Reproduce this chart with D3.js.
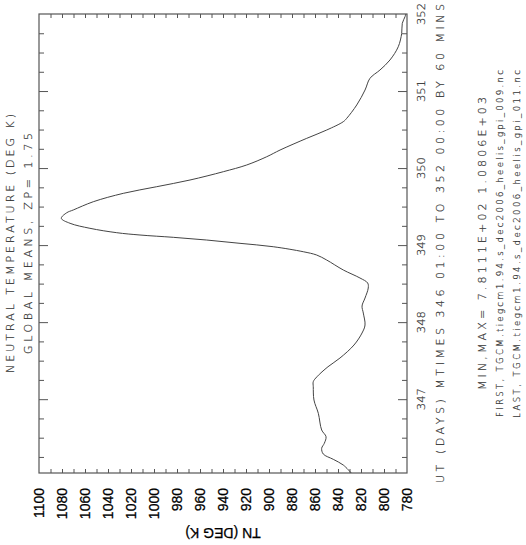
<!DOCTYPE html>
<html>
<head>
<meta charset="utf-8">
<script src="https://cdn.jsdelivr.net/npm/d3@7"></script>
<style>
  body { margin: 0; background: #fff; }
  svg { display: block; }
  .thin { font-family: "DejaVu Sans", sans-serif; font-weight: 200; fill: #333; stroke: #333; stroke-width: 0.2; }
  .num { font-family: "Liberation Sans", Arial, sans-serif; fill: #000; stroke: #000; stroke-width: 0.25; }
</style>
</head>
<body>
<div id="chart"></div>
<script>
// UT (decimal day) and global mean TN at ZP=1.75
const days = [346.042, 346.145, 346.219, 346.288, 346.362, 346.427, 346.513, 346.600,
  346.816, 346.989, 347.162, 347.227, 347.291, 347.421, 347.534, 347.703, 347.859,
  347.963, 348.118, 348.209, 348.313, 348.443, 348.508, 348.573, 348.677, 348.806,
  348.871, 348.914, 348.979, 349.023, 349.066, 349.101, 349.131, 349.161, 349.218,
  349.283, 349.348, 349.420, 349.456, 349.563, 349.672, 349.758, 349.845, 349.953,
  350.040, 350.147, 350.234, 350.386, 350.494, 350.602, 350.646, 350.819, 351.013,
  351.165, 351.273, 351.403, 351.575, 351.749, 351.879, 351.965, 352.000];
const tn = [828.5, 835.4, 844.1, 852.8, 854.2, 851.9, 850.4, 854.2,
  857.1, 860.9, 861.5, 861.5, 858.3, 848.7, 838.3, 826.1, 819.1,
  816.5, 818.0, 819.1, 816.5, 813.7, 814.2, 820.9, 835.4, 849.8,
  858.5, 870.2, 896.3, 925.2, 954.2, 983.2, 1012.2, 1032.4, 1055.7,
  1073.0, 1080.6, 1075.9, 1070.2, 1052.8, 1026.7, 997.7, 968.7, 939.7,
  919.4, 902.0, 890.4, 867.2, 849.8, 835.4, 832.4, 823.7, 816.5,
  812.2, 803.5, 794.8, 787.6, 784.6, 784.1, 781.7, 781.1];

const tnTicks = d3.range(1100, 779, -20);
const dayTicks = [347, 348, 349, 350, 351, 352];

const titleLines = ["NEUTRAL TEMPERATURE (DEG K)", "GLOBAL MEANS, ZP=  1.75"];
const xTitle = "UT (DAYS) MTIMES 346 01:00 TO 352 00:00 BY  60 MINS";
const minMax = "MIN,MAX=  7.8111E+02  1.0806E+03";
const fileLines = ["FIRST, TGCM.tiegcm1.94.s_dec2006_heelis_gpi_009.nc",
                   "LAST,  TGCM.tiegcm1.94.s_dec2006_heelis_gpi_011.nc"];

const W = 526, H = 545;
const frame = { l: 39, r: 407, t: 14, b: 473 };

const svg = d3.select("#chart").append("svg")
  .attr("width", W).attr("height", H);

// plot is drawn turned on its side: TN runs across, time runs up
const x = d3.scaleLinear().domain([1100, 780]).range([frame.l, frame.r]);
const y = d3.scaleLinear().domain([346 + 1 / 24, 352]).range([frame.b, frame.t]);

const tickStyle = g => g.call(s => s.select(".domain").remove())
  .selectAll("line").attr("stroke", "#555").attr("stroke-width", 1);

svg.append("g").attr("transform", `translate(0,${frame.b})`)
  .call(d3.axisBottom(x).tickValues(d3.range(1090, 780, -10)).tickSize(-4).tickFormat(""))
  .call(tickStyle);
svg.append("g").attr("transform", `translate(0,${frame.t})`)
  .call(d3.axisTop(x).tickValues(d3.range(1090, 780, -10)).tickSize(-4).tickFormat(""))
  .call(tickStyle);

const minorDays = d3.range(346.25, 352, 0.25);
["left", "right"].forEach(side => {
  const ax = side === "left" ? d3.axisLeft(y) : d3.axisRight(y);
  const g = svg.append("g").attr("transform", `translate(${side === "left" ? frame.l : frame.r},0)`)
    .call(ax.tickValues(minorDays).tickFormat("").tickSize(0))
    .call(tickStyle);
  g.selectAll(".tick line")
    .attr("x2", d => (side === "left" ? 1 : -1) * (Number.isInteger(d) ? 9 : 5));
});

svg.append("rect")
  .attr("x", frame.l).attr("y", frame.t)
  .attr("width", frame.r - frame.l).attr("height", frame.b - frame.t)
  .attr("fill", "none").attr("stroke", "#555").attr("stroke-width", 1.2);

const line = d3.line()
  .x(d => x(d[1]))
  .y(d => y(d[0]))
  .curve(d3.curveCatmullRom.alpha(0.5));

svg.append("path")
  .datum(d3.zip(days, tn))
  .attr("d", line)
  .attr("fill", "none")
  .attr("stroke", "#444")
  .attr("stroke-width", 1);

// TN tick labels, reading upward
svg.append("g").selectAll("text")
  .data(tnTicks).join("text")
  .attr("class", "num")
  .attr("transform", d => `translate(${x(d)},488) rotate(-90)`)
  .attr("dy", "0.36em")
  .attr("text-anchor", "end")
  .attr("font-size", 14)
  .text(d => d);

svg.append("text")
  .attr("class", "num")
  .attr("transform", `translate(${(frame.l + frame.r) / 2},528) rotate(180)`)
  .attr("text-anchor", "middle")
  .attr("font-size", 14)
  .text("TN (DEG K)");

// day labels
svg.append("g").selectAll("text")
  .data(dayTicks).join("text")
  .attr("class", "thin")
  .attr("transform", d => `translate(425,${y(d)}) rotate(-90)`)
  .attr("text-anchor", "middle")
  .attr("font-size", 11)
  .attr("textLength", 22)
  .attr("lengthAdjust", "spacingAndGlyphs")
  .text(d => d);

// vertical text: baseline x, start (bottom) y, end (top) y
function sideText(str, bx, y0, y1, size) {
  svg.append("text")
    .attr("class", "thin")
    .attr("transform", `translate(${bx},${(y0 + y1) / 2}) rotate(-90)`)
    .attr("text-anchor", "middle")
    .attr("font-size", size)
    .attr("textLength", y0 - y1)
    .attr("lengthAdjust", "spacing")
    .text(str);
}

sideText(titleLines[0], 14, 373, 114, 11);
sideText(titleLines[1], 32, 354, 133, 11);
sideText(xTitle, 444, 483, 4, 11);
sideText(minMax, 486, 390, 97, 11);
sideText(fileLines[0], 503, 417, 70, 8.5);
sideText(fileLines[1], 520, 418, 70, 8.5);
</script>
</body>
</html>
